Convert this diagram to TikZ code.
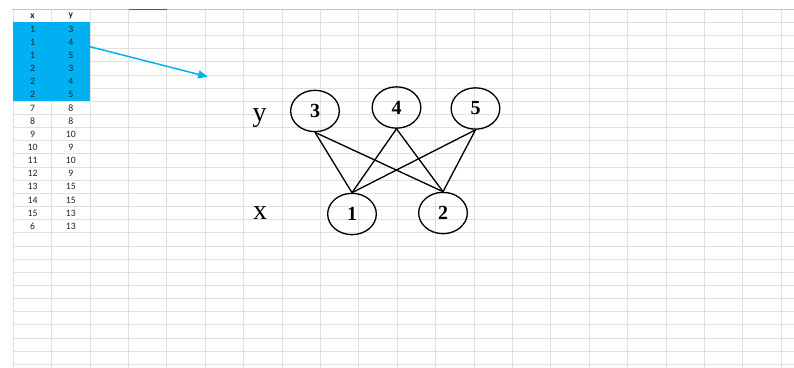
\documentclass[tikz,border=0pt]{standalone}
\usepackage{fontspec}
\setmainfont{Liberation Serif}
\newfontfamily\sheetfont{Carlito}
\usepackage{xcolor}
\definecolor{GridGrey}{HTML}{E0E0E0}
\definecolor{EdgeGrey}{HTML}{C4C4C4}
\definecolor{SelBlue}{HTML}{00B0F0}
\definecolor{SheetGreen}{HTML}{217346}
\definecolor{CellInk}{HTML}{222222}
\usepackage{tikz}
\usetikzlibrary{arrows.meta,positioning,shapes.geometric}

\begin{document}
\begin{tikzpicture}[
  x=0.75pt, y=-0.75pt,
  gridln/.style={draw=GridGrey, line width=0.7pt},
  cell/.style={font=\sheetfont\fontsize{7.3}{8}\selectfont, text=CellInk,
               inner sep=0pt},
  vert/.style={draw, ellipse, line width=1pt, inner sep=0pt,
               minimum width=36.5pt, minimum height=31pt,
               font=\bfseries\fontsize{15}{15}\selectfont},
  lbl/.style={font=\fontsize{21}{21}\selectfont, inner sep=0pt},
  edge/.style={line width=1pt},
  arr/.style={-{Triangle[length=7pt,width=6pt]}, line width=1.1pt, SelBlue}
]
  \useasboundingbox[fill=white] (0,0) rectangle (794,368);
  % sheet grid
  \foreach \c in {0,...,20}
    \draw[gridln] (13.3+38.4*\c,9.3) -- (13.3+38.4*\c,368);
  \foreach \r in {1,...,27}
    \draw[gridln] (13.3,9.3+13.15*\r) -- (794,9.3+13.15*\r);
  \draw[EdgeGrey, line width=0.75pt] (12,9.3) -- (794,9.3);
  \draw[SheetGreen, line width=1pt] (128.5,9.3) -- (166.9,9.3);
  \fill[SelBlue] (13.3,22.45) rectangle (90.1,101.35);
  % table
  \node[cell, font=\sheetfont\bfseries\fontsize{7}{8}\selectfont] (hx) at (32.5,15.9) {x};
  \node[cell, font=\sheetfont\bfseries\fontsize{7}{8}\selectfont] (hy) at (70.9,15.9) {y};
  \foreach \a/\b [count=\k] in {1/3,1/4,1/5,2/3,2/4,2/5,7/8,8/8,9/10,10/9,
                                11/10,12/9,13/15,14/15,15/13,6/13} {
    \node[cell] (xa\k) at (32.5,15.9+13.15*\k) {\a};
    \node[cell] (yb\k) at (70.9,15.9+13.15*\k) {\b};
  }
  \coordinate (tail) at (90.1,46.7);
  \coordinate (tip) at (207.5,76.7);
  \draw[arr] (tail) -- (tip);
  % bipartite graph
  \node[lbl] (ylab) at (259.5,118) {y};
  \node[lbl] (xlab) at (260,213) {x};
  \node[vert] (y3) at (315,111) {3};
  \node[vert] (y4) at (396.5,107.5) {4};
  \node[vert] (y5) at (475.5,108.5) {5};
  \node[vert] (x1) at (352,214) {1};
  \node[vert] (x2) at (443,213) {2};
  \foreach \t in {3,4,5}
    \foreach \b in {1,2}
      \draw[edge] (y\t.south) -- (x\b.north);
\end{tikzpicture}
\end{document}
